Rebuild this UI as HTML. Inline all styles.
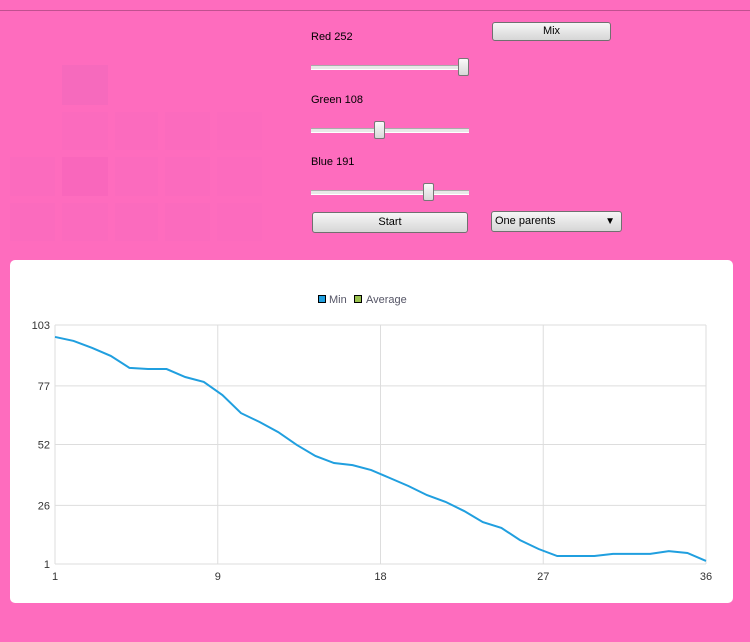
<!DOCTYPE html>
<html><head><meta charset="utf-8"><style>
body{margin:0;width:750px;height:642px;background:#fe6cbe;font-family:"Liberation Sans",sans-serif;font-size:11px;position:relative;overflow:hidden}
.abs{position:absolute}
.tb{left:0;top:0;width:750px;height:10px;border-bottom:1px solid #c05090;background:#fe6cbe}
.sq{position:absolute;background:#fb6bbe}
.lbl{position:absolute;font-size:11px;color:#000}
.track{position:absolute;height:3px;background:#e8e8e8;border-top:1px solid #aaa;border-bottom:1px solid #fff;width:158px}
.thumb{position:absolute;width:9px;height:16px;background:linear-gradient(#fafafa,#d8d8d8);border:1px solid #777;border-radius:2px}
.btn{position:absolute;background:linear-gradient(#f6f6f6,#d6d6d6);border:1px solid #707070;border-radius:3px;text-align:center;font-size:11px;color:#000;box-sizing:border-box}
.card{left:10px;top:260px;width:723px;height:343px;background:#fff;border-radius:5px}
</style></head><body>
<div class="abs tb"></div>
<div>
<div class="sq" style="left:62px;top:65px;width:46px;height:40px;background:#f66abd"></div>
<div class="sq" style="left:62px;top:112px;width:46px;height:38px"></div>
<div class="sq" style="left:115px;top:112px;width:43px;height:38px"></div>
<div class="sq" style="left:165px;top:112px;width:45px;height:38px"></div>
<div class="sq" style="left:217px;top:112px;width:45px;height:38px;background:#fc6bbe"></div>
<div class="sq" style="left:10px;top:157px;width:45px;height:39px"></div>
<div class="sq" style="left:62px;top:157px;width:46px;height:39px;background:#f967bc"></div>
<div class="sq" style="left:115px;top:157px;width:43px;height:39px"></div>
<div class="sq" style="left:165px;top:157px;width:45px;height:39px"></div>
<div class="sq" style="left:217px;top:157px;width:45px;height:39px;background:#fc6bbe"></div>
<div class="sq" style="left:10px;top:203px;width:45px;height:38px"></div>
<div class="sq" style="left:62px;top:203px;width:46px;height:38px"></div>
<div class="sq" style="left:115px;top:203px;width:43px;height:38px"></div>
<div class="sq" style="left:165px;top:203px;width:45px;height:38px"></div>
<div class="sq" style="left:217px;top:203px;width:45px;height:38px;background:#fc6bbe"></div>
</div>
<div class="lbl" style="left:311px;top:31px">Red 252</div>
<div class="track" style="left:311px;top:65px"></div>
<div class="thumb" style="left:458px;top:58px"></div>
<div class="lbl" style="left:311px;top:94px">Green 108</div>
<div class="track" style="left:311px;top:128px"></div>
<div class="thumb" style="left:374px;top:121px"></div>
<div class="lbl" style="left:311px;top:156px">Blue 191</div>
<div class="track" style="left:311px;top:190px"></div>
<div class="thumb" style="left:423px;top:183px"></div>
<div class="btn" style="left:492px;top:22px;width:119px;height:19px;line-height:17px">Mix</div>
<div class="btn" style="left:312px;top:212px;width:156px;height:21px;line-height:19px">Start</div>
<div class="btn" style="left:491px;top:211px;width:131px;height:21px;line-height:19px;text-align:left;padding-left:3px">One parents<span style="position:absolute;right:6px;top:0;font-size:10px">▼</span></div>
<div class="abs card"></div>
<svg class="abs" style="left:0;top:0" width="750" height="642" id="chart"></svg>
<script>
const xs=[1,2,3,4,5,6,7,8,9,10,11,12,13,14,15,16,17,18,19,20,21,22,23,24,25,26,27,28,29,30,31,32,33,34,35,36];
const minVals=[97.9,96.2,93.2,89.8,84.7,84.2,84.2,80.8,78.7,73.1,65.4,61.6,57.3,51.8,47.1,44.1,43.2,41.1,37.7,34.3,30.4,27.5,23.6,18.9,16.4,11.2,7.4,4.4,4.4,4.4,5.3,5.3,5.3,6.5,5.7,2.3];
const yTicks=[1,26,52,77,103];
const xTicks=[1,9,18,27,36];
const svg=document.getElementById('chart');
const NS='http://www.w3.org/2000/svg';
const X0=55,X1=706,Y0=564,Y1=325;
function sx(v){return X0+(v-1)/(36-1)*(X1-X0);}
function sy(v){return Y0-(v-1)/(103-1)*(Y0-Y1);}
function mk(t,a){const e=document.createElementNS(NS,t);for(const k in a)e.setAttribute(k,a[k]);svg.appendChild(e);return e;}
yTicks.forEach(t=>{
 const l=mk('line',{x1:X0,x2:X1,y1:sy(t),y2:sy(t),stroke:'#ddd','stroke-width':1});
 
 
 const tx=mk('text',{x:X0-5,y:sy(t)+4,'text-anchor':'end','font-size':11,fill:'#333','font-family':'Liberation Sans, sans-serif'});
 tx.textContent=t;
 
 
});
xTicks.forEach((t,i)=>{
 const px=X0+i*(X1-X0)/(xTicks.length-1);
 const l=mk('line',{x1:px,x2:px,y1:Y1,y2:Y0,stroke:'#ddd','stroke-width':1});
 
 
 const tx=mk('text',{x:px,y:Y0+16,'text-anchor':'middle','font-size':11,fill:'#333','font-family':'Liberation Sans, sans-serif'});
 tx.textContent=t;
 
 
});
const p=mk('polyline',{points:xs.map((x,i)=>sx(x)+','+sy(minVals[i])).join(' '),fill:'none',stroke:'#209fdf','stroke-width':2});


const r1=mk('rect',{x:318.5,y:295.5,width:7,height:7,fill:'#209fdf',stroke:'#000'});


const t1=mk('text',{x:329,y:303,'font-size':11,fill:'#556','font-family':'Liberation Sans, sans-serif'});t1.textContent='Min';


const r2=mk('rect',{x:354.5,y:295.5,width:7,height:7,fill:'#99c14e',stroke:'#000'});


const t2=mk('text',{x:366,y:303,'font-size':11,fill:'#556','font-family':'Liberation Sans, sans-serif'});t2.textContent='Average';


</script>
</body></html>
